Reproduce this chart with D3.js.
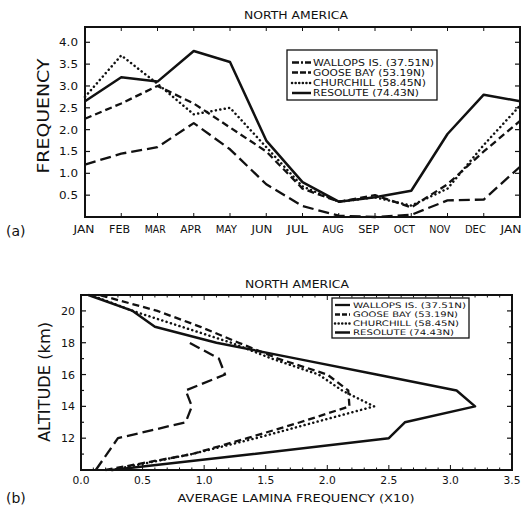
<!DOCTYPE html>
<html><head><meta charset="utf-8">
<script src="https://cdn.jsdelivr.net/npm/d3@7"></script>
<style>
body{margin:0;background:#fff;}
text{font-family:"DejaVu Sans","Liberation Sans",Arial,sans-serif;fill:#111;}
</style></head>
<body><svg id="c" width="529" height="509"></svg>
<script>
// ---- Panel (a) data: monthly frequency ----
const months = ["JAN","FEB","MAR","APR","MAY","JUN","JUL","AUG","SEP","OCT","NOV","DEC","JAN"];
const wallopsA   = [1.20,1.45,1.60,2.15,1.55,0.75,0.25,0.03,0.00,0.05,0.38,0.40,1.15];
const gooseA     = [2.25,2.60,3.00,2.60,2.05,1.50,0.65,0.35,0.50,0.22,0.75,1.50,2.20];
const churchillA = [2.75,3.70,3.05,2.35,2.50,1.60,0.70,0.35,0.45,0.26,0.65,1.65,2.55];
const resoluteA  = [2.65,3.20,3.10,3.80,3.55,1.75,0.80,0.35,0.45,0.60,1.90,2.80,2.65];
const freqTicks  = [0.5,1.0,1.5,2.0,2.5,3.0,3.5,4.0];

// ---- Panel (b) data: altitude profiles ----
const altitudes   = [10,11,12,13,14,15,16,17,18,19,20,21];
const wallopsAlt  = [10,11,12,13,14,15,16,17,18];
const wallopsB    = [0.12,0.21,0.30,0.85,0.90,0.85,1.17,1.12,0.88];
const gooseB      = [0.20,0.90,1.35,1.78,2.18,2.17,2.00,1.60,1.28,0.97,0.62,0.15];
const churchillB  = [0.25,0.90,1.42,1.90,2.38,2.12,1.93,1.55,1.22,0.82,0.42,0.08];
const resoluteB   = [0.25,1.40,2.50,2.63,3.20,3.05,2.40,1.75,1.10,0.60,0.42,0.06];
const xTicksB     = [0.0,0.5,1.0,1.5,2.0,2.5,3.0,3.5];
const yTicksB     = [12,14,16,18,20];

const legendNames = ["WALLOPS IS. (37.51N)","GOOSE BAY (53.19N)","CHURCHILL (58.45N)","RESOLUTE (74.43N)"];
const styles = [
  {dash:"11,5", w:2.3, cap:"butt"},
  {dash:"7,4",  w:2.3, cap:"butt"},
  {dash:"0.1,4.4", w:2.5, cap:"round"},
  {dash:null,   w:2.5, cap:"butt"}
];

const svg = d3.select("#c");

function txt(g, x, y, s, fs, anchor, len){
  const t = g.append("text").attr("x",x).attr("y",y).attr("font-size",fs)
    .attr("text-anchor",anchor||"start").text(s);
  if(len) t.attr("textLength",len).attr("lengthAdjust","spacingAndGlyphs");
  return t;
}
function drawFrame(g, x0, y0, x1, y1){
  g.append("rect").attr("x",x0).attr("y",y0).attr("width",x1-x0).attr("height",y1-y0)
   .attr("fill","none").attr("stroke","#111").attr("stroke-width",2);
}
function drawSeries(g, xs, ys, st){
  const line = d3.line().x(d=>d[0]).y(d=>d[1]);
  const p = g.append("path").attr("d", line(xs.map((v,i)=>[v, ys[i]])))
    .attr("fill","none").attr("stroke","#111").attr("stroke-width",st.w)
    .attr("stroke-linejoin","round").attr("stroke-linecap",st.cap);
  if(st.dash) p.attr("stroke-dasharray",st.dash);
}
function drawLegend(g, x0, y0, w, h, rows, symX0, symX1, textX, fs, lens, symDash){
  g.append("rect").attr("x",x0).attr("y",y0).attr("width",w).attr("height",h)
    .attr("fill","#fff").attr("stroke","#111").attr("stroke-width",1.3);
  legendNames.forEach((n,i)=>{
    const st = styles[i];
    const l = g.append("line").attr("x1",symX0).attr("x2",symX1).attr("y1",rows[i]).attr("y2",rows[i])
      .attr("stroke","#111").attr("stroke-width",st.w).attr("stroke-linecap",st.cap);
    if(symDash[i]) l.attr("stroke-dasharray", symDash[i]);
    txt(g, textX, rows[i]+fs*0.36, n, fs, "start", lens[i]);
  });
}

// ================= Panel (a) =================
{
  const L=85, R=520, T=27, B=217;
  const x = d3.scaleLinear().domain([0,12]).range([L,R]);
  const xl = d3.scaleLinear().domain([0,12]).range([84,511]);
  const y = d3.scaleLinear().domain([0,4.35]).range([B,T]);
  const g = svg.append("g");
  txt(g, 296, 19, "NORTH AMERICA", 10.5, "middle", 104);
  freqTicks.forEach(t=>{
    g.append("line").attr("x1",L).attr("x2",L+5).attr("y1",y(t)).attr("y2",y(t)).attr("stroke","#111").attr("stroke-width",1.2);
    g.append("line").attr("x1",R).attr("x2",R-5).attr("y1",y(t)).attr("y2",y(t)).attr("stroke","#111").attr("stroke-width",1.2);
    txt(g, L-7, y(t)+4, t.toFixed(1), 11, "end", 19);
  });
  months.forEach((m,i)=>{
    g.append("line").attr("x1",x(i)).attr("x2",x(i)).attr("y1",B).attr("y2",B-4).attr("stroke","#111").attr("stroke-width",1);
    g.append("line").attr("x1",x(i)).attr("x2",x(i)).attr("y1",T).attr("y2",T+4).attr("stroke","#111").attr("stroke-width",1);
    txt(g, xl(i), 233, m, 10, "middle", 21);
  });
  g.append("text").attr("transform","translate(49,116) rotate(-90)").attr("text-anchor","middle")
    .attr("font-size",15).attr("textLength",115).attr("lengthAdjust","spacingAndGlyphs").text("FREQUENCY");
  txt(g, 6, 236, "(a)", 14, "start");
  const idx = months.map((m,i)=>x(i));
  [wallopsA,gooseA,churchillA,resoluteA].forEach((s,k)=>drawSeries(g, idx, s.map(v=>y(v)), styles[k]));
  drawFrame(g,L,T,R,B);
  drawLegend(g, 287, 50, 150, 50, [62.5,72.5,83,93], 292, 311, 313, 8.5,
             [121,112,113,106], ["7,2,2,2","6,2","0.1,3.5",null]);
}

// ================= Panel (b) =================
{
  const L=81, R=512, T=295, B=470;
  const x = d3.scaleLinear().domain([0,3.5]).range([L,R]);
  const y = d3.scaleLinear().domain([10,21]).range([B,T]);
  const g = svg.append("g");
  txt(g, 297, 288, "NORTH AMERICA", 10.5, "middle", 104);
  d3.range(11,21).forEach(t=>{
    const len = (t%2===0)?5:3;
    g.append("line").attr("x1",L).attr("x2",L+len).attr("y1",y(t)).attr("y2",y(t)).attr("stroke","#111").attr("stroke-width",1.2);
    g.append("line").attr("x1",R).attr("x2",R-len).attr("y1",y(t)).attr("y2",y(t)).attr("stroke","#111").attr("stroke-width",1.2);
  });
  yTicksB.forEach(t=>{
    txt(g, L-6, y(t)+4, String(t), 11, "end", 14);
  });
  d3.range(1,35).forEach(i=>{
    const v=i/10, major=(i%5===0);
    g.append("line").attr("x1",x(v)).attr("x2",x(v)).attr("y1",B).attr("y2",B-(major?5:2.5)).attr("stroke","#111").attr("stroke-width",1);
    g.append("line").attr("x1",x(v)).attr("x2",x(v)).attr("y1",T).attr("y2",T+(major?5:2.5)).attr("stroke","#111").attr("stroke-width",1);
  });
  xTicksB.forEach(t=>{
    txt(g, x(t), 484, t.toFixed(1), 10.5, "middle", 17);
  });
  txt(g, 296, 502, "AVERAGE LAMINA FREQUENCY (X10)", 10.5, "middle", 237);
  g.append("text").attr("transform","translate(50,382) rotate(-90)").attr("text-anchor","middle")
    .attr("font-size",15).attr("textLength",120).attr("lengthAdjust","spacingAndGlyphs").text("ALTITUDE (km)");
  txt(g, 6, 503, "(b)", 14, "start");
  drawSeries(g, wallopsB.map(v=>x(v)), wallopsAlt.map(a=>y(a)), styles[0]);
  [gooseB,churchillB,resoluteB].forEach((s,k)=>drawSeries(g, s.map(v=>x(v)), altitudes.map(a=>y(a)), styles[k+1]));
  drawFrame(g,L,T,R,B);
  drawLegend(g, 332, 298, 137, 40, [305,314.5,323.5,332.5], 335, 350, 353, 7.6,
             [113,105,106,101], [null,"5,2","0.1,3.5",null]);
}
</script></body></html>
